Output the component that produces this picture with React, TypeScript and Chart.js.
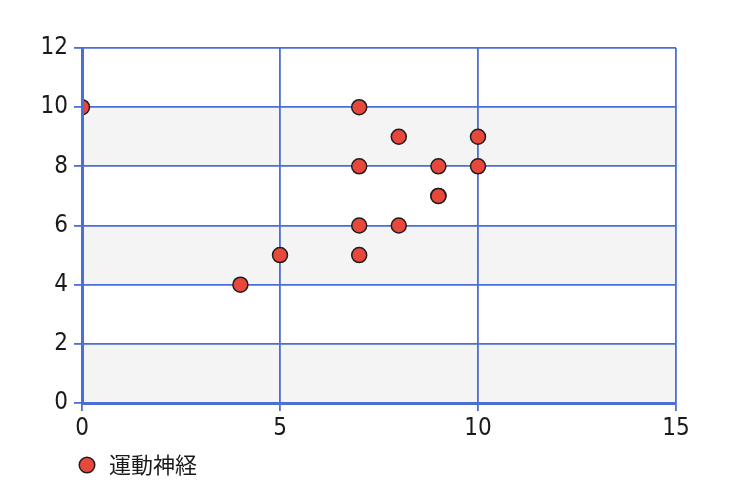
import React, { useEffect, useRef } from "react";
import { Chart, registerables } from "chart.js";

Chart.register(...registerables);

// Series data
const seriesLabel = "運動神経";
const xValues = [0, 4, 5, 7, 7, 7, 7, 8, 8, 9, 9, 9, 10, 10];
const yValues = [10, 4, 5, 10, 8, 6, 5, 9, 6, 8, 7, 7, 9, 8];

// Axis ranges and tick spacing
const xRange = [0, 15];
const xStep = 5;
const yRange = [0, 12];
const yStep = 2;

// Horizontal bands shaded behind the plot (y from, y to)
const shadedBands = [
  [0, 2],
  [4, 6],
  [8, 10],
];

const AXIS_BLUE = "#4a6fd6";
const POINT_FILL = "#e8473c";
const POINT_EDGE = "#1e1e1e";
const TICK_FONT = "'Liberation Sans Narrow', 'DejaVu Sans Condensed', sans-serif";
const LEGEND_FONT = "'Noto Sans CJK JP', sans-serif";
const LEGEND_INDENT = 76;

const bandPlugin = {
  id: "bands",
  beforeDraw(chart: any) {
    const { ctx, chartArea, scales } = chart;
    const y = scales.y;
    ctx.save();
    ctx.fillStyle = "#ffffff";
    ctx.fillRect(chartArea.left, chartArea.top, chartArea.right - chartArea.left, chartArea.bottom - chartArea.top);
    ctx.fillStyle = "#f4f4f4";
    for (const [from, to] of shadedBands) {
      const top = y.getPixelForValue(to);
      const bottom = y.getPixelForValue(from);
      ctx.fillRect(chartArea.left, top, chartArea.right - chartArea.left, bottom - top);
    }
    ctx.restore();
  },
};

// Indent the bottom legend so it sits under the plot's left edge
const legendIndentPlugin = {
  id: "legendIndent",
  afterLayout(chart: any) {
    const legend = chart.legend;
    if (legend) {
      legend.left += LEGEND_INDENT;
    }
  },
};

export default function App() {
  const canvasRef = useRef<HTMLCanvasElement | null>(null);

  useEffect(() => {
    document.body.style.margin = "0";
    const canvas = canvasRef.current;
    if (!canvas) return;
    const points = xValues.map((x, i) => ({ x, y: yValues[i] }));
    const chart = new Chart(canvas, {
      type: "scatter",
      data: {
        datasets: [
          {
            label: seriesLabel,
            data: points,
            backgroundColor: POINT_FILL,
            borderColor: POINT_EDGE,
            borderWidth: 1.5,
            pointRadius: 7.5,
            pointHoverRadius: 7.5,
          },
        ],
      },
      options: {
        animation: false,
        responsive: false,
        maintainAspectRatio: false,
        layout: { padding: { left: 0, right: 74, top: 48, bottom: 8 } },
        plugins: {
          tooltip: { enabled: false },
          legend: {
            position: "bottom",
            align: "start",
            labels: {
              usePointStyle: true,
              pointStyle: "circle",
              boxWidth: 22,
              boxHeight: 11,
              padding: 0,
              color: "#1a1a1a",
              font: { family: LEGEND_FONT, size: 22 },
            },
          },
        },
        scales: {
          x: {
            type: "linear",
            min: xRange[0],
            max: xRange[1],
            afterFit(scale: any) {
              scale.height = 51;
            },
            ticks: {
              stepSize: xStep,
              padding: 3,
              color: "#1a1a1a",
              font: { family: TICK_FONT, size: 24 },
            },
            grid: { color: AXIS_BLUE, lineWidth: 1.8, tickLength: 8, tickColor: AXIS_BLUE },
            border: { color: AXIS_BLUE, width: 3, z: 1 },
          },
          y: {
            type: "linear",
            min: yRange[0],
            max: yRange[1],
            afterFit(scale: any) {
              scale.width = 82;
            },
            ticks: {
              stepSize: yStep,
              padding: 6,
              color: "#1a1a1a",
              font: { family: TICK_FONT, size: 24 },
            },
            grid: { color: AXIS_BLUE, lineWidth: 1.8, tickLength: 8, tickColor: AXIS_BLUE },
            border: { color: AXIS_BLUE, width: 3, z: 1 },
          },
        },
      },
      plugins: [bandPlugin, legendIndentPlugin],
    });
    return () => chart.destroy();
  }, []);

  return (
    <div style={{ width: 750, height: 494 }}>
      <canvas ref={canvasRef} width={750} height={494} style={{ display: "block" }} />
    </div>
  );
}
